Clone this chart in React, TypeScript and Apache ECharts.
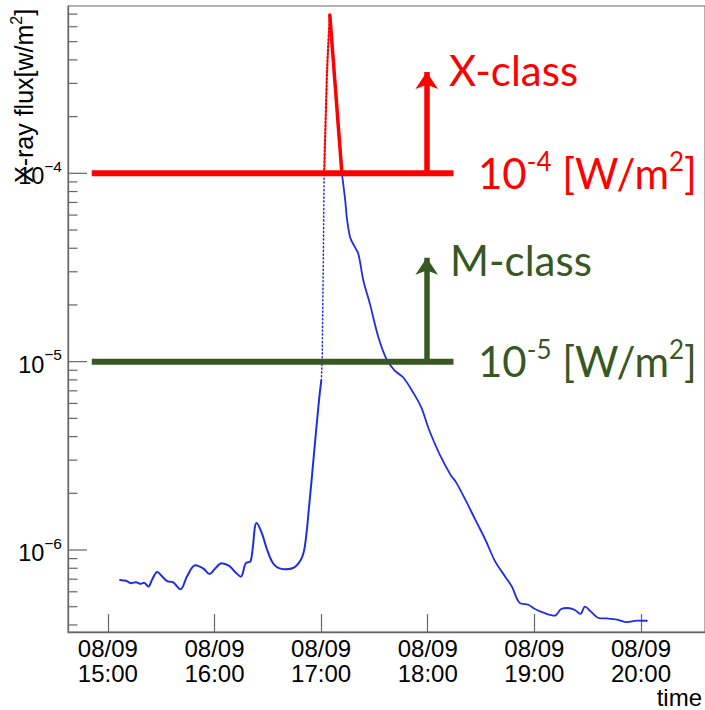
import React, { useEffect, useRef } from "react";
import * as echarts from "echarts";

// GOES X-ray flux, 2011-08-09 (local time), W/m^2
const preTimes = [
  "15:06:54", "15:10:12", "15:13:00", "15:15:48", "15:18:36", "15:20:24", "15:22:48", "15:25:00",
  "15:27:48", "15:30:36", "15:33:24", "15:36:36", "15:40:54", "15:44:30", "15:49:12", "15:53:48",
  "15:57:12", "16:00:18", "16:04:00", "16:08:18", "16:11:30", "16:14:48", "16:17:36", "16:20:24",
  "16:23:42", "16:26:42", "16:30:00", "16:33:42", "16:39:18", "16:43:54", "16:48:30", "16:50:48",
  "16:53:12", "16:56:00", "16:58:48", "17:00:06",
];
const preFlux = [
  6.94e-7, 6.86e-7, 6.67e-7, 6.75e-7, 6.61e-7, 6.71e-7, 6.4e-7, 7.0e-7,
  7.65e-7, 7.23e-7, 6.83e-7, 6.75e-7, 6.19e-7, 7.23e-7, 8.3e-7, 7.96e-7,
  7.46e-7, 7.96e-7, 8.51e-7, 8.23e-7, 7.67e-7, 7.22e-7, 8.51e-7, 8.75e-7,
  1.39e-6, 1.225e-6, 9.79e-7, 8.34e-7, 7.91e-7, 8.0e-7, 8.85e-7, 1.04e-6,
  1.69e-6, 3.25e-6, 6.22e-6, 7.93e-6,
];
const riseTimes = ["17:00:06", "17:00:36", "17:01:12", "17:01:42", "17:03:24", "17:04:54"];
const riseFlux = [7.93e-6, 1.01e-5, 3.22e-5, 1.0e-4, 3.61e-4, 6.92e-4];
const decayTimes = [
  "17:04:54", "17:08:24", "17:11:42", "17:13:36", "17:14:30", "17:16:24", "17:19:12", "17:21:00",
  "17:23:48", "17:27:30", "17:32:12", "17:36:48", "17:41:24", "17:46:06", "17:51:42", "17:56:18",
  "18:00:54", "18:06:30", "18:13:00", "18:15:48", "18:21:18", "18:26:54", "18:32:30", "18:38:00",
  "18:43:36", "18:47:18", "18:51:54", "18:56:36", "19:00:18", "19:05:48", "19:11:24", "19:15:06",
  "19:18:48", "19:22:30", "19:25:54", "19:28:30", "19:31:48", "19:36:30", "19:41:06", "19:46:36",
  "19:52:12", "19:57:48", "20:03:18",
];
const decayFlux = [
  6.92e-4, 2.55e-4, 1.0e-4, 7.12e-5, 5.8e-5, 4.55e-5, 4.03e-5, 3.72e-5,
  2.69e-5, 2.02e-5, 1.35e-5, 1.03e-5, 8.95e-6, 8.26e-6, 6.88e-6, 5.73e-6,
  4.31e-6, 3.25e-6, 2.49e-6, 2.3e-6, 1.84e-6, 1.44e-6, 1.13e-6, 8.67e-7,
  7.22e-7, 6.4e-7, 5.22e-7, 5.12e-7, 4.86e-7, 4.62e-7, 4.48e-7, 4.86e-7,
  4.92e-7, 4.82e-7, 4.58e-7, 5.01e-7, 4.71e-7, 4.35e-7, 4.33e-7, 4.27e-7,
  4.14e-7, 4.22e-7, 4.21e-7,
];

// axes
const X_RANGE = ["14:37:34", "20:36:01"];
const Y_RANGE = [3.67e-7, 7.73e-4];
const Y_MAJOR = [1e-6, 1e-5, 1e-4];
const Y_MINOR = [
  4e-7, 5e-7, 6e-7, 7e-7, 8e-7, 9e-7,
  2e-6, 3e-6, 4e-6, 5e-6, 6e-6, 7e-6, 8e-6, 9e-6,
  2e-5, 3e-5, 4e-5, 5e-5, 6e-5, 7e-5, 8e-5, 9e-5,
  2e-4, 3e-4, 4e-4, 5e-4, 6e-4, 7e-4,
];
const DATE_LABEL = "08/09";

// class thresholds
const X_CLASS = 1e-4;
const M_CLASS = 1e-5;
const THRESH_SPAN = ["14:50:56", "18:14:30"];
const ARROW_TIME = "17:59:26";
const X_ARROW_TIP = 3.45e-4;
const M_ARROW_TIP = 3.56e-5;

const AXIS = "#666666";
const BLUE = "#1f2fe0";
const RED = "#ff0000";
const GREEN = "#385723";
const ROOT_FONT = "'Liberation Sans', Arial, sans-serif";
const PPT_FONT = "Lato, 'Open Sans', sans-serif";

function ts(hms: string): number {
  const [h, m, s] = hms.split(":").map(Number);
  return new Date(2011, 7, 9, h, m, s || 0).getTime();
}
const pair = (times: string[], flux: number[]) => times.map((t, i) => [ts(t), flux[i]]);
const pad = (n: number) => (n < 10 ? "0" + n : "" + n);

export default function App() {
  const ref = useRef<HTMLDivElement>(null);
  useEffect(() => {
    if (!ref.current) return;
    const chart = echarts.init(ref.current, null, { renderer: "svg" });
    const pre = pair(preTimes, preFlux);
    const rise = pair(riseTimes, riseFlux);
    const decay = pair(decayTimes, decayFlux);
    const riseBlue = rise.filter((p) => p[1] <= X_CLASS);
    const riseRed = rise.filter((p) => p[1] >= X_CLASS);
    const decayRed = decay.filter((p) => p[1] >= X_CLASS);
    const decayBlue = decay.filter((p) => p[1] <= X_CLASS);
    const xMin = ts(X_RANGE[0]);
    const xMax = ts(X_RANGE[1]);

    const curve = (data: number[][], color: string, width: number, type: any, z: number, smooth: number) => ({
      type: "line",
      data,
      showSymbol: false,
      symbol: "none",
      silent: true,
      smooth,
      z,
      lineStyle: { color, width, type, cap: "round", join: "round" },
      emphasis: { disabled: true },
    });

    const threshold = (level: number, tip: number, color: string) => ({
      type: "line",
      data: [
        [ts(THRESH_SPAN[0]), level],
        [ts(THRESH_SPAN[1]), level],
      ],
      showSymbol: false,
      symbol: "none",
      silent: true,
      z: 10,
      lineStyle: { color, width: 6 },
      emphasis: { disabled: true },
      markLine: {
        silent: true,
        symbol: ["none", "arrow"],
        symbolSize: 17,
        label: { show: false },
        lineStyle: { color, width: 5.5, type: "solid" },
        emphasis: { disabled: true },
        data: [
          [
            { coord: [ts(ARROW_TIME), level] },
            { coord: [ts(ARROW_TIME), tip] },
          ],
        ],
      },
    });

    const option: any = {
      animation: false,
      grid: {
        left: 68,
        top: 6,
        right: -7,
        bottom: 78,
        show: true,
        borderColor: AXIS,
        borderWidth: 1,
        backgroundColor: "transparent",
      },
      xAxis: {
        type: "time",
        min: xMin,
        max: xMax,
        minInterval: 3600 * 1000,
        maxInterval: 3600 * 1000,
        splitLine: { show: false },
        axisLine: { lineStyle: { color: AXIS, width: 1.3 } },
        axisTick: { inside: true, length: 18, lineStyle: { color: AXIS, width: 1.2 } },
        minorTick: { show: false },
        axisLabel: {
          margin: 4,
          fontFamily: ROOT_FONT,
          fontSize: 24,
          lineHeight: 25,
          color: "#000",
          formatter: (v: number) => {
            const d = new Date(v);
            if (d.getMinutes() !== 0 || d.getSeconds() !== 0) return "";
            return DATE_LABEL + "\n" + pad(d.getHours()) + ":00";
          },
        },
      },
      yAxis: {
        type: "log",
        logBase: 10,
        min: Y_RANGE[0],
        max: Y_RANGE[1],
        splitLine: { show: false },
        axisLine: { show: true, lineStyle: { color: AXIS, width: 1.3 } },
        axisTick: { show: false },
        axisLabel: {
          margin: 6,
          formatter: (v: number) => {
            const e = Math.log10(v);
            if (Math.abs(e - Math.round(e)) > 1e-6) return "";
            return "{b|10}{s|\u2212" + -Math.round(e) + "}";
          },
          rich: {
            b: { fontFamily: ROOT_FONT, fontSize: 23.5, color: "#000", lineHeight: 30, verticalAlign: "bottom" },
            s: { fontFamily: ROOT_FONT, fontSize: 15.5, color: "#000", lineHeight: 16, verticalAlign: "top" },
          },
        },
      },
      series: [
        {
          type: "custom",
          silent: true,
          clip: false,
          z: 5,
          data: [...Y_MAJOR.map((v) => [xMin, v, 1]), ...Y_MINOR.map((v) => [xMin, v, 0])],
          renderItem: (params: any, api: any) => {
            const p = api.coord([api.value(0), api.value(1)]);
            const x0 = params.coordSys.x;
            const len = api.value(2) ? 19 : 9.5;
            return {
              type: "line",
              shape: { x1: x0, y1: p[1], x2: x0 + len, y2: p[1] },
              style: { stroke: AXIS, lineWidth: 1.2 },
            };
          },
        },
        curve(pre, BLUE, 2, "solid", 3, 0.35),
        curve(riseBlue, BLUE, 1.5, [1.2, 2.6], 3, 0),
        curve(riseRed, RED, 2.2, [1.6, 2], 4, 0.2),
        curve(decayRed, RED, 3.5, "solid", 4, 0.2),
        curve(decayBlue, BLUE, 1.8, "solid", 3, 0.35),
        threshold(X_CLASS, X_ARROW_TIP, RED),
        threshold(M_CLASS, M_ARROW_TIP, GREEN),
      ],
      graphic: [
        {
          type: "text",
          x: 22,
          y: 183,
          rotation: Math.PI / 2,
          silent: true,
          style: {
            text: "{t|X-ray flux[w/m}{s|2}{t|]}",
            align: "left",
            verticalAlign: "middle",
            rich: {
              t: { fontFamily: ROOT_FONT, fontSize: 25, fill: "#000", lineHeight: 28, verticalAlign: "bottom" },
              s: { fontFamily: ROOT_FONT, fontSize: 16, fill: "#000", lineHeight: 16, verticalAlign: "top" },
            },
          },
        },
        {
          type: "text",
          x: 702,
          y: 697,
          silent: true,
          style: { text: "time", align: "right", verticalAlign: "middle", font: "24px " + ROOT_FONT, fill: "#000" },
        },
        {
          type: "text",
          x: 449,
          y: 70,
          silent: true,
          style: { text: "X-class", align: "left", verticalAlign: "middle", font: "42px " + PPT_FONT, fill: RED },
        },
        {
          type: "text",
          x: 478,
          y: 171,
          silent: true,
          style: {
            text: "{n|10}{s|-4}{n| [W/m}{s|2}{n|]}",
            align: "left",
            verticalAlign: "middle",
            rich: {
              n: { fontFamily: PPT_FONT, fontSize: 42, fill: RED, lineHeight: 46, verticalAlign: "bottom" },
              s: { fontFamily: PPT_FONT, fontSize: 26, fill: RED, lineHeight: 25, verticalAlign: "top" },
            },
          },
        },
        {
          type: "text",
          x: 450,
          y: 260,
          silent: true,
          style: { text: "M-class", align: "left", verticalAlign: "middle", font: "42px " + PPT_FONT, fill: GREEN },
        },
        {
          type: "text",
          x: 478,
          y: 359,
          silent: true,
          style: {
            text: "{n|10}{s|-5}{n| [W/m}{s|2}{n|]}",
            align: "left",
            verticalAlign: "middle",
            rich: {
              n: { fontFamily: PPT_FONT, fontSize: 42, fill: GREEN, lineHeight: 46, verticalAlign: "bottom" },
              s: { fontFamily: PPT_FONT, fontSize: 26, fill: GREEN, lineHeight: 25, verticalAlign: "top" },
            },
          },
        },
      ],
    };
    chart.setOption(option);
    return () => chart.dispose();
  }, []);
  return (
    <div
      ref={ref}
      style={{ position: "absolute", left: 0, top: 0, width: 705, height: 710, background: "#fff" }}
    />
  );
}
